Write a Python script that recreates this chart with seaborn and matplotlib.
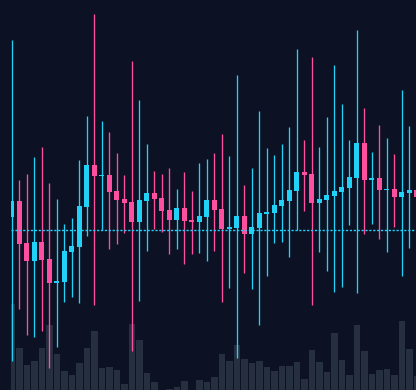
import numpy as np
import pandas as pd
import matplotlib
matplotlib.use("Agg")
import matplotlib.pyplot as plt
import seaborn as sns

# ---- data ----
opens = [101.3, 102.9, 98.7, 96.9, 98.8, 97.1, 94.7, 94.8, 97.8, 98.3,
         102.3, 106.5, 105.4, 105.5, 103.9, 103.1, 102.8, 100.8, 102.9, 103.7,
         103.2, 102.0, 101.0, 102.2, 101.0, 100.8, 101.3, 103.0, 102.1, 100.1,
         100.2, 101.4, 99.6, 100.2, 101.6, 101.7, 102.4, 102.9, 103.9, 105.8,
         105.6, 102.7, 103.0, 103.4, 103.8, 104.2, 105.2, 108.7, 105.0, 105.2,
         104.0, 104.1, 103.3, 103.7, 104.0]
highs = [119.0, 105.0, 105.6, 107.3, 108.3, 104.7, 103.1, 100.6, 101.2, 107.0,
         111.4, 121.6, 110.9, 109.8, 107.7, 105.5, 116.9, 113.0, 108.6, 105.9,
         105.6, 106.2, 104.1, 105.8, 103.9, 106.7, 107.1, 107.7, 109.6, 107.4,
         115.5, 104.5, 106.2, 111.9, 108.2, 107.5, 108.6, 110.3, 118.1, 109.0,
         117.3, 108.3, 111.3, 116.5, 112.6, 109.0, 120.0, 112.2, 107.8, 110.5,
         109.2, 107.6, 114.0, 110.4, 106.0]
lows = [86.9, 92.1, 89.5, 89.3, 89.9, 86.2, 88.3, 92.8, 93.3, 92.7,
        99.4, 92.5, 100.0, 98.1, 98.6, 99.7, 87.9, 92.9, 97.9, 100.1,
        99.8, 97.6, 98.1, 96.6, 97.6, 97.7, 96.9, 97.9, 92.8, 94.2,
        87.2, 95.7, 94.1, 90.5, 95.4, 98.7, 98.8, 97.3, 100.0, 101.9,
        92.5, 97.8, 95.9, 93.8, 94.3, 100.5, 93.7, 99.6, 100.6, 99.1,
        97.8, 100.3, 95.4, 98.2, 101.5]
closes = [102.9, 98.6, 96.9, 98.8, 97.0, 94.7, 94.9, 97.9, 98.4, 102.4,
          106.5, 105.4, 105.5, 103.8, 103.0, 102.7, 100.8, 103.0, 103.7, 103.1,
          101.9, 101.0, 102.2, 100.9, 100.8, 101.4, 103.0, 102.0, 100.1, 100.3,
          101.4, 99.6, 100.3, 101.7, 101.8, 102.5, 103.0, 104.0, 105.8, 105.5,
          102.7, 103.1, 103.5, 103.9, 104.3, 105.3, 108.7, 105.0, 105.2, 104.0,
          104.1, 103.3, 103.8, 104.0, 103.3]
volumes = [860, 420, 250, 290, 420, 650, 360, 190, 150, 270,
           420, 590, 220, 230, 200, 60, 660, 500, 170, 80,
           5, 10, 30, 90, 5, 100, 80, 130, 360, 290,
           450, 310, 270, 290, 230, 190, 240, 240, 280, 110,
           400, 280, 180, 570, 300, 150, 650, 390, 160, 200,
           210, 150, 690, 410, 140]
ref_price = 100.0

BG = "#0c1124"
UP = "#22d1f7"
DOWN = "#ff4fa0"
VOLC = "#262f40"

n = len(opens)
df = pd.DataFrame({"idx": np.arange(n), "open": opens, "high": highs,
                   "low": lows, "close": closes, "volume": volumes})
df["up"] = df["close"] >= df["open"]
df["color"] = np.where(df["up"], UP, DOWN)

sns.set_theme(style="dark")
fig = plt.figure(figsize=(4.16, 3.90), dpi=100, facecolor=BG)
ax_vol = fig.add_axes([11 / 416, 0, 1 - 11 / 416, 1])
ax_vol.set_facecolor(BG)

# volume bars via seaborn
sns.barplot(data=df, x="idx", y="volume", native_scale=True, color=VOLC,
            saturation=1, width=0.88, linewidth=0, ax=ax_vol)
ax_vol.set_ylim(0, 3900)

ax = ax_vol.twinx()
ax.patch.set_visible(False)

# wicks
ax.vlines(df["idx"], df["low"], df["high"], colors=df["color"], linewidth=0.95,
          zorder=2)
# bodies
body_bottom = np.minimum(df["open"], df["close"])
body_h = np.maximum(np.abs(df["close"] - df["open"]), 0.12)
ax.bar(df["idx"], body_h, bottom=body_bottom, width=0.67, color=df["color"],
       linewidth=0, zorder=3)

ax.axhline(ref_price, color=UP, linewidth=1.0, linestyle=(0, (1.6, 1.2)),
           zorder=4)

ax.set_ylim(84, 123)
xl = (-0.13, 53.87)
ax.set_xlim(*xl)
ax_vol.set_xlim(*xl)

for a in (ax, ax_vol):
    a.set_xticks([])
    a.set_yticks([])
    a.set_xlabel("")
    a.set_ylabel("")
    a.grid(False)
    for s in a.spines.values():
        s.set_visible(False)

fig.savefig("out.png", dpi=100, facecolor=BG)
